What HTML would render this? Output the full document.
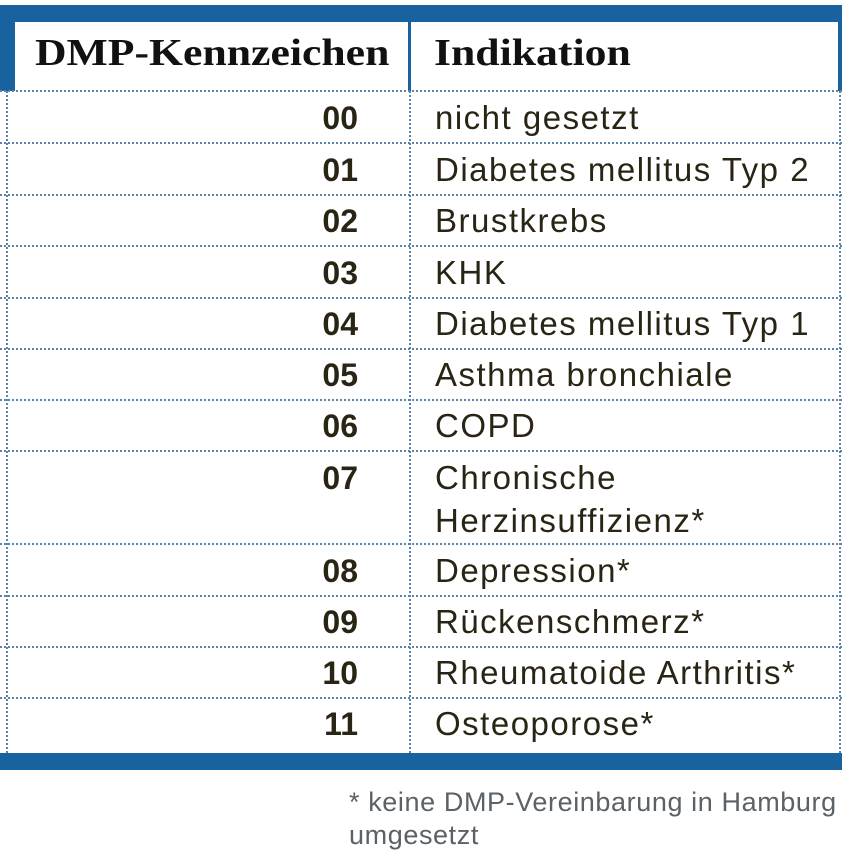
<!DOCTYPE html>
<html><head><meta charset="utf-8"><style>
body{margin:0;width:848px;height:863px;background:#fff;position:relative;overflow:hidden;font-family:"Liberation Sans",sans-serif}
.b{position:absolute;background:#1862a0}
.h{position:absolute;font-family:"Liberation Serif",serif;font-weight:bold;font-size:38px;color:#111;top:31px;transform-origin:0 0;transform:scaleX(1.15)}
.hl{position:absolute;left:0;width:842px;border-top:2px dotted #5a84ac;height:0}
.vl{position:absolute;border-left:2px dotted #5a84ac;width:0}
.c{position:absolute;right:490px;font-weight:bold;font-size:32px;color:#2a2414}
.t{position:absolute;left:435px;font-size:33px;letter-spacing:1.5px;color:#2a2414;line-height:43px}
.f{position:absolute;left:349px;top:786px;font-size:27px;letter-spacing:0.6px;color:#5a6268;line-height:33px}
</style></head><body>
<div class="b" style="left:0;top:5px;width:842px;height:17px"></div>
<div class="b" style="left:0;top:22px;width:15px;height:69px"></div>
<div class="b" style="left:838px;top:22px;width:4px;height:69px"></div>
<div class="b" style="left:408px;top:22px;width:3px;height:69px"></div>
<div class="h" style="left:35px">DMP-Kennzeichen</div>
<div class="h" style="left:434px">Indikation</div>
<div class="hl" style="top:90px"></div>
<div class="hl" style="top:142px"></div>
<div class="hl" style="top:194px"></div>
<div class="hl" style="top:245px"></div>
<div class="hl" style="top:297px"></div>
<div class="hl" style="top:348px"></div>
<div class="hl" style="top:399px"></div>
<div class="hl" style="top:450px"></div>
<div class="hl" style="top:543px"></div>
<div class="hl" style="top:595px"></div>
<div class="hl" style="top:646px"></div>
<div class="hl" style="top:697px"></div>
<div class="vl" style="left:6px;top:91px;height:662px"></div>
<div class="vl" style="left:409px;top:91px;height:662px"></div>
<div class="vl" style="left:839px;top:91px;height:662px"></div>
<div class="b" style="left:0;top:753px;width:842px;height:17px"></div>
<div class="c" style="top:100px">00</div><div class="t" style="top:96px">nicht gesetzt</div>
<div class="c" style="top:152px">01</div><div class="t" style="top:148px">Diabetes mellitus Typ 2</div>
<div class="c" style="top:203px">02</div><div class="t" style="top:199px">Brustkrebs</div>
<div class="c" style="top:255px">03</div><div class="t" style="top:251px">KHK</div>
<div class="c" style="top:306px">04</div><div class="t" style="top:302px">Diabetes mellitus Typ 1</div>
<div class="c" style="top:357px">05</div><div class="t" style="top:353px">Asthma bronchiale</div>
<div class="c" style="top:408px">06</div><div class="t" style="top:404px">COPD</div>
<div class="c" style="top:460px">07</div><div class="t" style="top:456px">Chronische<br>Herzinsuffizienz*</div>
<div class="c" style="top:553px">08</div><div class="t" style="top:549px">Depression*</div>
<div class="c" style="top:604px">09</div><div class="t" style="top:600px">Rückenschmerz*</div>
<div class="c" style="top:655px">10</div><div class="t" style="top:651px">Rheumatoide Arthritis*</div>
<div class="c" style="top:706px">11</div><div class="t" style="top:702px">Osteoporose*</div>
<div class="f">* keine DMP-Vereinbarung in Hamburg<br>umgesetzt</div>
</body></html>
